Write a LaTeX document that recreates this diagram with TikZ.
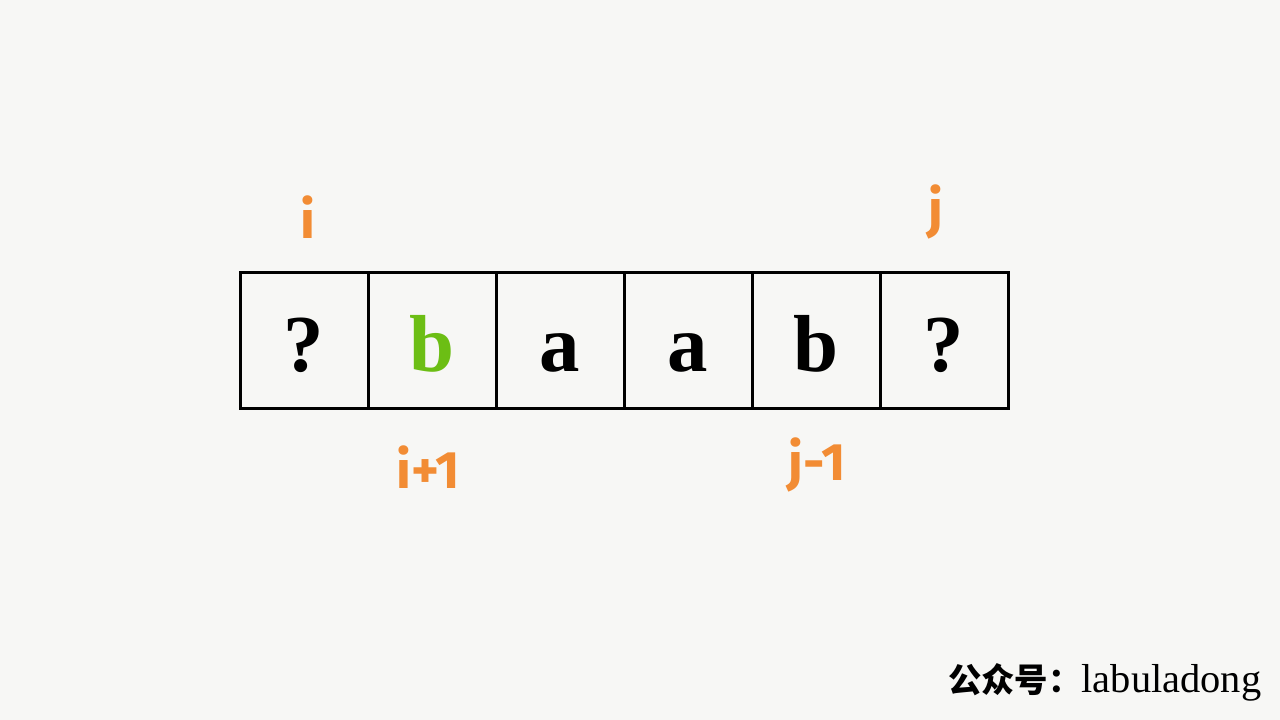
\documentclass[tikz,border=0pt]{standalone}
\usepackage{fontspec}
\setmainfont{Liberation Serif}
\newfontfamily\labfont{Fira Sans}
\newfontfamily\cjkfont{Noto Sans CJK SC}
\definecolor{bgcol}{RGB}{247,247,245}
\definecolor{idxorange}{RGB}{242,140,52}
\definecolor{mygreen}{RGB}{108,190,20}
\tikzset{
  cell/.style={draw=black, line width=0.03cm, minimum width=1.28cm, minimum height=1.36cm,
    inner sep=0pt, text height=0.62cm, text depth=0cm,
    font=\fontsize{23}{26}\selectfont\bfseries},
  idx/.style={text=idxorange, inner sep=0pt, font=\labfont\fontsize{15}{18}\selectfont\bfseries}
}
\begin{document}
\begin{tikzpicture}[x=1cm,y=1cm]
\fill[bgcol] (0,0) rectangle (12.8,7.2);
\useasboundingbox (0,0) rectangle (12.8,7.2);
\node[cell] (c1) at (3.04,3.79) {?};
\node[cell, text=mygreen] (c2) at (4.32,3.79) {b};
\node[cell] (c3) at (5.60,3.79) {a};
\node[cell] (c4) at (6.88,3.79) {a};
\node[cell] (c5) at (8.16,3.79) {b};
\node[cell] (c6) at (9.44,3.79) {?};
\node[idx] (li) at (3.08,5.03) {i};
\node[idx] (lj) at (9.36,5.08) {j};
\node[idx] (li1) at (4.28,2.53) {i+1};
\node[idx] (lj1) at (8.17,2.55) {j-1};
\node[anchor=base east, inner sep=0pt, font=\fontsize{11.5}{14}\selectfont] (wm) at (12.62,0.27)
  {{\cjkfont\bfseries\fontsize{9.5}{12}\selectfont 公众号：}labuladong};
\end{tikzpicture}
\end{document}
